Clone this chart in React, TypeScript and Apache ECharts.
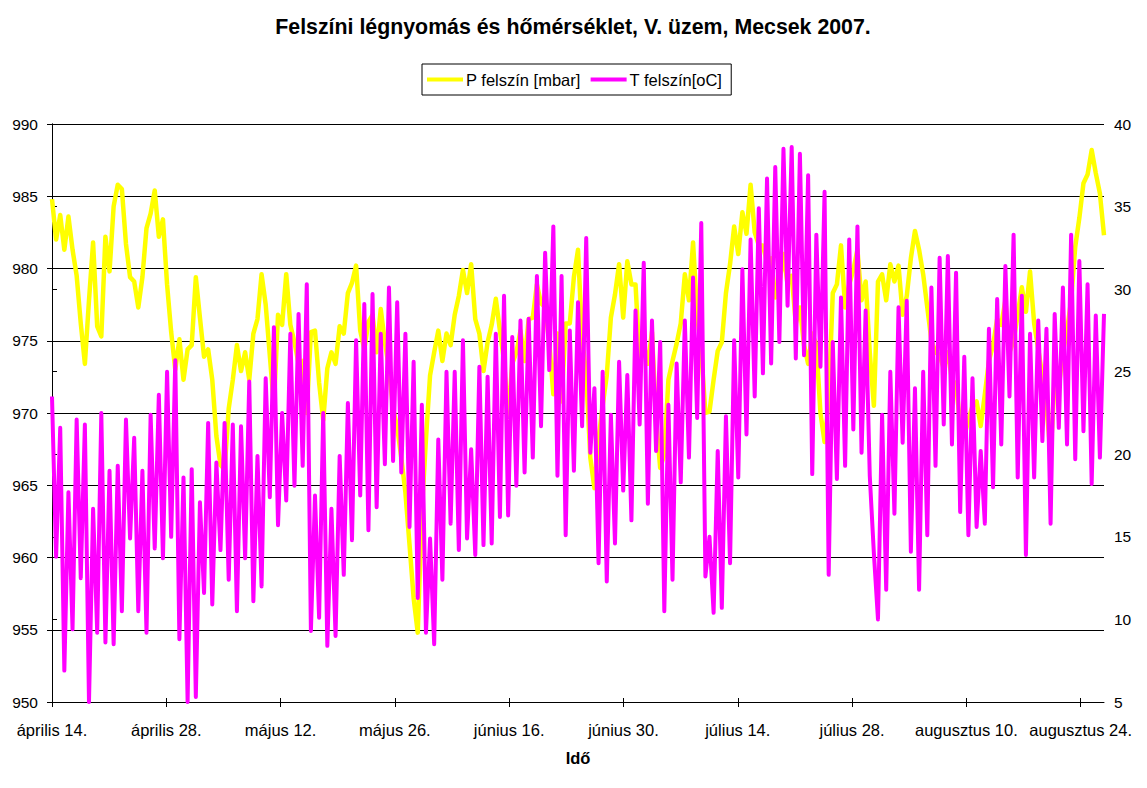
import React, { useEffect, useRef } from "react";
import * as echarts from "echarts";

const titleText = "Felszíni légnyomás és hőmérséklet, V. üzem, Mecsek 2007.";
const xTitle = "Idő";
const seriesNames = ["P felszín [mbar]", "T felszín[oC]"];
const tickLabels = ["április 14.", "április 28.", "május 12.", "május 26.", "június 16.", "június 30.", "július 14.", "július 28.", "augusztus 10.", "augusztus 24."];
const tickDays = [0, 14, 28, 42, 56, 70, 84, 98, 112, 126];
const lastDay = 128.86;

const pressure = [
  984.8, 982, 983.7, 981.3, 983.6, 981.3, 979.5, 976.2, 973.4, 977.8, 981.8, 976, 975.3, 982.2, 979.8, 984.3,
  985.8, 985.5, 981.7, 979.4, 979.1, 977.3, 979.4, 982.8, 983.8, 985.4, 982.2, 983.4, 978.9, 975.6, 973, 975.1,
  972.3, 974.4, 974.7, 979.4, 976.6, 973.9, 974.4, 972.3, 968.4, 966.4, 966.1, 970.3, 972.3, 974.7, 972.9, 974.2,
  972.3, 975.5, 976.5, 979.6, 977.5, 974, 970.5, 976.8, 976.1, 979.6, 976.1, 974.9, 973.4, 973.6, 970, 975.6,
  975.7, 972.1, 969.5, 973.1, 974.2, 973.4, 976, 975.5, 978.3, 979, 980.2, 975.7, 974.4, 976.3, 976.8, 974.2,
  977.2, 974.9, 973.1, 970.3, 969, 966.9, 964.5, 960.9, 957.2, 954.8, 963.2, 968.2, 972.6, 974.2, 975.7, 973.6,
  975.5, 974.7, 976.8, 978.1, 979.9, 978.3, 980.3, 976.5, 975.5, 972.9, 974.9, 976.1, 977.9, 975.7, 973.6, 969.7,
  973.4, 974.2, 975.7, 973.6, 976.5, 976.6, 978.9, 977.6, 977.3, 974.9, 971.3, 975.5, 970.8, 976.2, 976.2, 979.4,
  981.3, 975.2, 972.6, 966.9, 964.8, 968.2, 970.5, 972.6, 976.6, 978.2, 980.3, 976.6, 980.5, 978.9, 978.9, 973.6,
  974.7, 973.4, 975.6, 969.5, 966.2, 967.1, 972.3, 973.6, 974.8, 976.2, 979.6, 977.8, 981.8, 976.8, 974.2, 970,
  970.1, 972.3, 974.3, 974.9, 978.3, 980.3, 982.9, 981, 983.9, 982.4, 985.8, 982.5, 981.6, 981.6, 980.4, 980.7,
  978, 979, 981, 978.9, 979.5, 976.2, 977.3, 974.7, 973.4, 975.5, 974.7, 970, 968, 970.9, 978.3, 978.9,
  981.6, 977.3, 978.9, 979.9, 981.3, 977.8, 979.1, 974.2, 970.5, 979.1, 979.6, 977.8, 980.3, 979.1, 980.2, 976.8,
  978.1, 980.7, 982.6, 981.3, 979.6, 977.3, 975, 974.2, 974, 973.1, 974.2, 972.3, 972, 969.2, 968.4, 969.5,
  970.5, 970.8, 969.1, 971.3, 973.6, 974.7, 976.5, 976.1, 977.8, 974.2, 975, 976.8, 978.7, 977, 979.8, 976.2,
  974.4, 972.6, 970.5, 967.1, 972.3, 971.8, 974.2, 975.7, 977.8, 981.5, 983.5, 985.9, 986.5, 988.2, 986.6, 985.2,
  982.3,
];

const temperature = [
  23.5, 13.8, 21.6, 6.9, 17.7, 9.4, 22.1, 12.5, 21.8, 5, 16.7, 9.2, 22.5, 8.6, 19, 8.5,
  19.3, 10.5, 22.1, 14.9, 21, 10.5, 19, 9.2, 22.4, 14.3, 23.6, 13.7, 25, 15, 25.7, 8.8,
  18.6, 5, 19.1, 5.3, 17.1, 11.6, 21.9, 10.9, 19.5, 14.2, 21.9, 12.4, 21.8, 10.5, 21.7, 13.7,
  24.4, 11.1, 19.9, 12, 24.6, 17.4, 27.7, 15.7, 22.5, 17.2, 27.3, 18.1, 28.5, 19.3, 30.3, 9.3,
  17.5, 10.1, 22.5, 8.4, 16.7, 9, 19.9, 12.7, 23.1, 14.8, 26.9, 17.5, 29.1, 15.4, 29.7, 16.8,
  27.3, 19.4, 30.1, 19.6, 29.2, 18.9, 27.3, 15.6, 25.6, 11.3, 23, 9.2, 14.9, 8.5, 20.9, 12.4,
  25, 15.8, 25, 14.2, 26.9, 14.9, 20.3, 13.9, 25.3, 14.5, 24.7, 14.6, 27.3, 16.2, 29.6, 16.3,
  27.1, 18.1, 28.1, 18.9, 28.2, 19.8, 30.8, 21.7, 32.2, 25.1, 33.8, 18.7, 30.8, 15.1, 27.5, 19,
  29.2, 21.7, 33.1, 20.1, 24, 13.4, 25, 12.3, 22.4, 14.6, 25.6, 17.8, 24.8, 16, 28.7, 21.8,
  31.6, 17, 28.1, 20.2, 26.8, 10.5, 23, 12.4, 25.5, 18.3, 28.1, 19.8, 30.7, 22.2, 34, 12.6,
  15, 10.4, 20.2, 10.7, 22.3, 13.4, 26.9, 18.6, 31.2, 21.2, 33, 23.5, 34.9, 24.9, 36.7, 25.5,
  37.4, 26.8, 38.5, 29, 38.6, 25.8, 38.2, 26, 36.9, 18.8, 33.3, 25.3, 35.9, 12.7, 26.8, 18.5,
  29.5, 19.3, 33, 21.5, 33.8, 20.1, 28.7, 18.7, 14, 10, 22.4, 11.8, 25, 16.4, 28.9, 20.7,
  29.3, 14.1, 24, 11.8, 25, 15.1, 30.1, 19.3, 31.9, 21.8, 32, 20.6, 31, 16.5, 25.9, 15.1,
  24.6, 15.6, 20.2, 15.8, 27.6, 18, 29.4, 20.6, 31.4, 23.5, 33.3, 18.6, 29.6, 13.9, 27.3, 18.6,
  28.1, 20.8, 27.6, 15.8, 28.5, 21.6, 30.1, 20.6, 33.3, 19.7, 31.7, 21.4, 30.3, 18.2, 28.4, 19.8,
  28.5,
];

const toPairs = (values: number[]) => values.map((v, i) => [(i * lastDay) / (values.length - 1), v]);
const FONT = "'Liberation Sans', Arial, sans-serif";

export default function App() {
  const ref = useRef<HTMLDivElement>(null);
  useEffect(() => {
    document.body.style.margin = "0";
    document.body.style.background = "#fff";
    const chart = echarts.init(ref.current!, undefined, { renderer: "svg" });
    const black = { color: "#000", width: 1 };
    chart.setOption({
      animation: false,
      backgroundColor: "#fff",
      textStyle: { fontFamily: FONT, color: "#000" },
      title: {
        text: titleText,
        left: 568,
        top: 11,
        textAlign: "center",
        textStyle: { fontFamily: FONT, fontSize: 21.33, fontWeight: "bold", color: "#000" },
      },
      legend: {
        left: 422,
        top: 64,
        orient: "horizontal",
        padding: [7, 9, 7, 5],
        itemGap: 10,
        itemWidth: 36,
        itemHeight: 4,
        icon: "rect",
        borderColor: "#000",
        borderWidth: 1,
        textStyle: { fontFamily: FONT, fontSize: 16.5, color: "#000", padding: [0, 0, 0, -2] },
        data: seriesNames,
      },
      grid: { left: 52, right: 43, top: 124, bottom: 86 },
      xAxis: [
        {
          type: "value",
          min: 0,
          max: lastDay,
          position: "bottom",
          name: xTitle,
          nameLocation: "middle",
          nameGap: 47,
          nameTextStyle: { fontFamily: FONT, fontSize: 16.5, fontWeight: "bold", color: "#000" },
          axisLine: { show: true, lineStyle: black },
          axisTick: { show: true, length: 5, inside: false, lineStyle: black, customValues: tickDays },
          axisLabel: {
            margin: 19,
            fontFamily: FONT,
            fontSize: 16.5,
            color: "#000",
            customValues: tickDays,
            formatter: (v: number) => tickLabels[tickDays.indexOf(v)] ?? "",
          },
          splitLine: { show: false },
        },
        {
          type: "value",
          min: 0,
          max: lastDay,
          position: "bottom",
          axisLine: { show: false },
          axisTick: { show: true, length: 4, inside: true, lineStyle: black, customValues: tickDays },
          axisLabel: { show: false },
          splitLine: { show: false },
        },
      ],
      yAxis: [
        {
          type: "value",
          min: 950,
          max: 990,
          interval: 5,
          axisLine: { show: true, lineStyle: black },
          axisTick: { show: true, length: 5, lineStyle: black },
          axisLabel: { margin: 14, fontFamily: FONT, fontSize: 15.5, color: "#000" },
          splitLine: { show: true, lineStyle: black },
        },
        {
          type: "value",
          min: 5,
          max: 40,
          interval: 5,
          position: "right",
          axisLine: { show: true, lineStyle: black },
          axisTick: { show: true, length: 5, lineStyle: black },
          axisLabel: { margin: 10, fontFamily: FONT, fontSize: 15.5, color: "#000" },
          splitLine: { show: false },
        },
      ],
      series: [
        {
          name: seriesNames[0],
          type: "line",
          xAxisIndex: 0,
          yAxisIndex: 0,
          showSymbol: false,
          symbol: "none",
          itemStyle: { color: "#FFFF00" },
          lineStyle: { color: "#FFFF00", width: 4.5, join: "round" },
          data: toPairs(pressure),
          z: 2,
        },
        {
          name: seriesNames[1],
          type: "line",
          xAxisIndex: 0,
          yAxisIndex: 1,
          showSymbol: false,
          symbol: "none",
          itemStyle: { color: "#FF00FF" },
          lineStyle: { color: "#FF00FF", width: 4, join: "round" },
          data: toPairs(temperature),
          z: 3,
        },
      ],
    });
    return () => chart.dispose();
  }, []);
  return <div ref={ref} style={{ width: 1147, height: 788 }} />;
}
